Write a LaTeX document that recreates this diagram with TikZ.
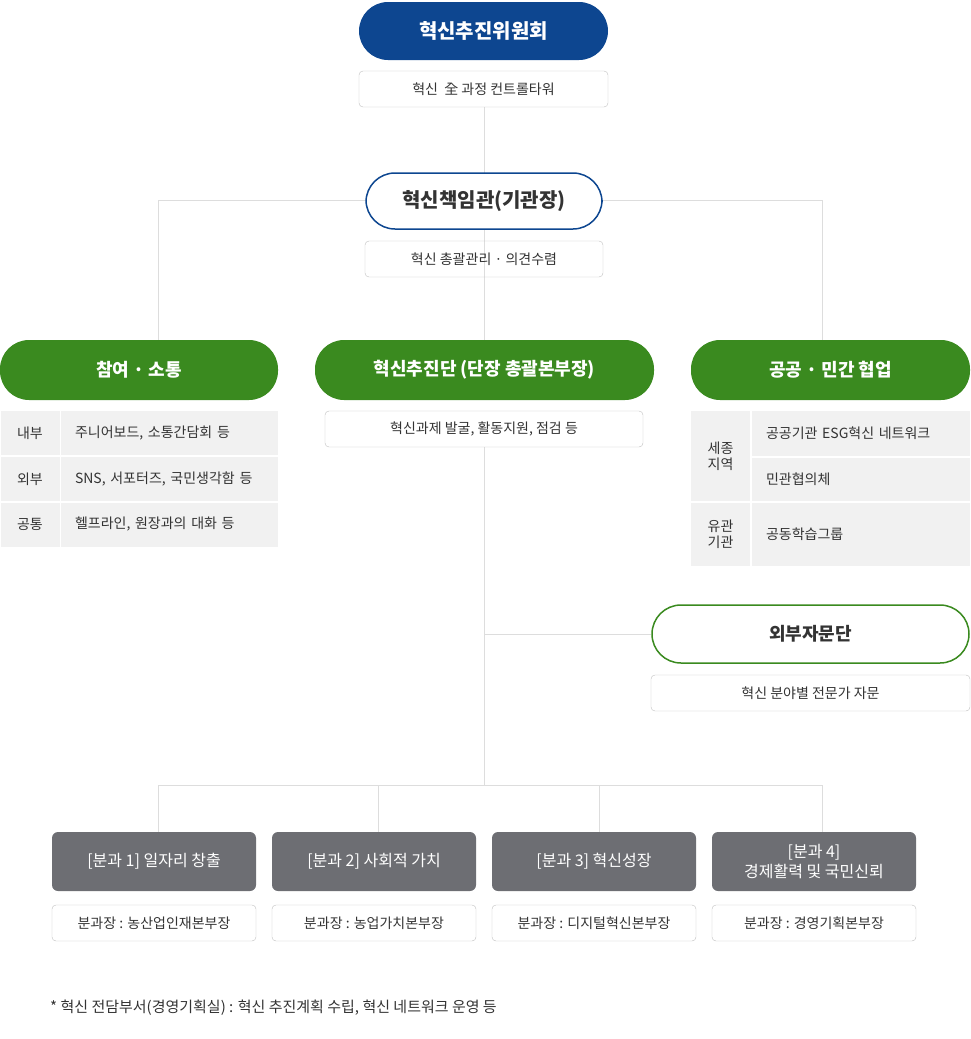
\documentclass[tikz,border=0pt]{standalone}
\usepackage{fontspec}
\setmainfont{Noto Sans CJK KR}
\definecolor{navy}{HTML}{0D4690}
\definecolor{leaf}{HTML}{3A8A1F}
\definecolor{slate}{HTML}{6D6E73}
\definecolor{wire}{HTML}{DDDDDD}
\definecolor{cell}{HTML}{F1F1F1}
\definecolor{ink}{HTML}{333333}
\newcommand{\fs}[1]{\fontsize{#1}{#1}\selectfont}
\begin{document}
\begin{tikzpicture}[x=1pt, y=-1pt,
    pill/.style={rounded corners=29pt, minimum height=58pt, font=\fs{18}\bfseries, align=center, inner sep=0pt},
    sub/.style={draw=black!25, rounded corners=4pt, minimum height=36pt, font=\fs{14}, text=ink, inner sep=0pt},
    part/.style={fill=slate, rounded corners=6pt, minimum width=204pt, minimum height=59pt, text=white, font=\fs{16}, align=center, inner sep=0pt},
    lbl/.style={fill=cell, minimum width=59pt, font=\fs{14}, text=ink, align=center, inner sep=0pt},
    txt/.style={fill=cell, font=\fs{14}, text=ink, inner sep=0pt},
    wires/.style={draw=wire, line width=0.8pt}]
    \useasboundingbox (0,0) rectangle (970,1039);
    % connectors
    \draw[wires] (484,107) -- (484,340);
    \draw[wires] (158,340) -- (158,200) -- (822,200) -- (822,340);
    \draw[wires] (484,447) -- (484,785);
    \draw[wires] (484,634) -- (651,634);
    \draw[wires] (158,832) -- (158,785) -- (822,785) -- (822,832);
    \draw[wires] (378,785) -- (378,832);
    \draw[wires] (599,785) -- (599,832);
    % top
    \node[pill, fill=navy, text=white, minimum width=249pt, font=\fs{20}\bfseries] (board) at (483.5,31) {혁신추진위원회};
    \node[sub, minimum width=249pt] (boardsub) at (483.5,89) {혁신\ \ 全 과정 컨트롤타워};
    \node[pill, fill=white, draw=navy, line width=1.5pt, text=ink, minimum width=236pt, minimum height=56pt, font=\fs{20}\bfseries] (cio) at (484,201) {혁신책임관(기관장)};
    \node[sub, minimum width=238pt] (ciosub) at (484,259) {혁신 총괄관리 · 의견수렴};
    % green row
    \node[pill, fill=leaf, text=white, minimum width=278pt, minimum height=60pt] (talk) at (139,370) {참여 · 소통};
    \node[pill, fill=leaf, text=white, minimum width=339pt, minimum height=60pt] (team) at (484.5,370) {혁신추진단 (단장 총괄본부장)};
    \node[pill, fill=leaf, text=white, minimum width=279pt, minimum height=60pt] (coop) at (830.5,370) {공공 · 민간 협업};
    \node[sub, minimum width=318pt] (teamsub) at (484,429) {혁신과제 발굴, 활동지원, 점검 등};
    % left table
    \foreach \y/\a/\b [count=\i] in {433/내부/{주니어보드, 소통간담회 등}, 479/외부/{SNS, 서포터즈, 국민생각함 등}, 524.5/공통/{헬프라인, 원장과의 대화 등}} {
        \node[lbl, minimum height=44pt] (tl\i) at (30,\y) {\a};
        \node[txt, minimum width=217pt, minimum height=44pt, text width=189pt] (tr\i) at (169.5,\y) {\b};
    }
    % right table
    \node[lbl, minimum height=90pt] (sejong) at (720.5,456) {세종\\[2pt]지역};
    \node[lbl, minimum height=63pt] (related) at (720.5,534.5) {유관\\[2pt]기관};
    \node[txt, minimum width=218pt, minimum height=45pt, text width=190pt] (esg) at (861,433.5) {공공기관 ESG혁신 네트워크};
    \node[txt, minimum width=218pt, minimum height=43pt, text width=190pt] (civic) at (861,479.5) {민관협의체};
    \node[txt, minimum width=218pt, minimum height=63pt, text width=190pt] (study) at (861,534.5) {공동학습그룹};
    % advisory
    \node[pill, fill=white, draw=leaf, line width=1.5pt, text=ink, minimum width=317pt, minimum height=58pt] (advice) at (810.5,634) {외부자문단};
    \node[sub, minimum width=319pt] (advicesub) at (810.5,693) {혁신 분야별 전문가 자문};
    % subcommittees
    \foreach \x/\t/\s [count=\i] in {154/{[분과 1] 일자리 창출}/{분과장 : 농산업인재본부장}, 374/{[분과 2] 사회적 가치}/{분과장 : 농업가치본부장}, 594/{[분과 3] 혁신성장}/{분과장 : 디지털혁신본부장}, 814/{[분과 4]\\[3pt]경제활력 및 국민신뢰}/{분과장 : 경영기획본부장}} {
        \node[part] (part\i) at (\x,861.5) {\t};
        \node[sub, minimum width=204pt] (partsub\i) at (\x,923) {\s};
    }
    \node[anchor=west, text=ink, font=\fs{15}, inner sep=0pt] (note) at (50,1008) {* 혁신 전담부서(경영기획실) : 혁신 추진계획 수립, 혁신 네트워크 운영 등};
\end{tikzpicture}
\end{document}
